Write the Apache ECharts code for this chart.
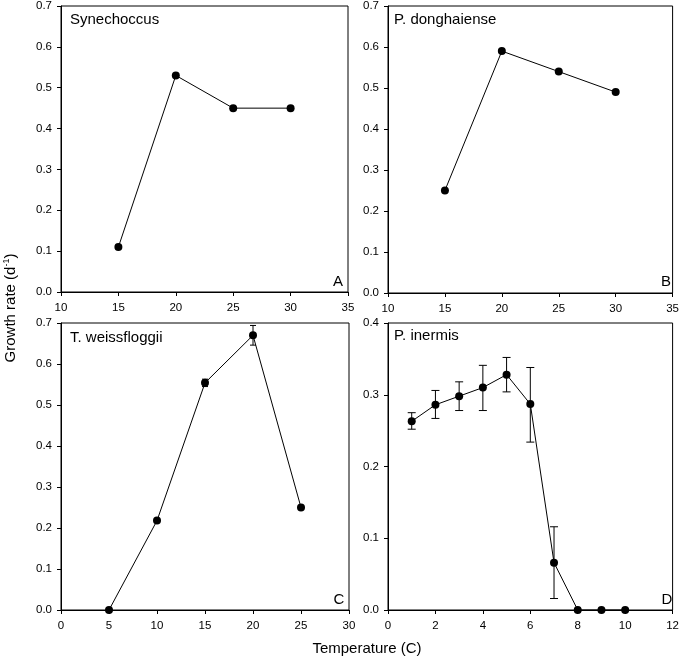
<!DOCTYPE html>
<html><head><meta charset="utf-8">
<script src="https://cdn.jsdelivr.net/npm/echarts@6/dist/echarts.min.js"></script>
<style>html,body{margin:0;padding:0;background:#fff}#c{width:682px;height:658px}</style>
</head><body><div id="c"></div>
<script>
// Panel A: Synechoccus
const tempA = [15, 20, 25, 30];
const rateA = [0.11, 0.53, 0.45, 0.45];
// Panel B: P. donghaiense
const tempB = [15, 20, 25, 30];
const rateB = [0.25, 0.59, 0.54, 0.49];
// Panel C: T. weissfloggii
const tempC = [5, 10, 15, 20, 25];
const rateC = [0.0, 0.218, 0.554, 0.67, 0.25];
const errC  = [0, 0.004, 0.009, 0.024, 0];
// Panel D: P. inermis
const tempD = [1, 2, 3, 4, 5, 6, 7, 8, 9, 10];
const rateD = [0.263, 0.286, 0.298, 0.310, 0.328, 0.287, 0.066, 0, 0, 0];
const errLowD  = [0.252, 0.267, 0.278, 0.278, 0.304, 0.234, 0.016, 0, 0, 0];
const errHighD = [0.275, 0.306, 0.318, 0.341, 0.352, 0.338, 0.116, 0, 0, 0];

const panelNames = ['Synechoccus', 'P. donghaiense', 'T. weissfloggii', 'P. inermis'];
const panelLetters = ['A', 'B', 'C', 'D'];

const font = 'Liberation Sans, Arial, sans-serif';
const chart = echarts.init(document.getElementById('c'));

const grids = [
  {left: 61, right: 334, top: 4, height: 288},
  {left: 388, right: 6, top: 4, height: 289},
  {left: 61, right: 333, top: 323, height: 287},
  {left: 388, right: 6, top: 323, height: 287}
].map(g => Object.assign(g, {show: true, borderColor: '#000', borderWidth: 1, backgroundColor: 'transparent'}));

function xAx(i, min, max, interval) {
  return {type: 'value', gridIndex: i, min, max, interval,
    axisLine: {show: true, onZero: false, lineStyle: {color: '#000', width: 1}},
    axisTick: {show: true, inside: false, length: 4, lineStyle: {color: '#000'}},
    axisLabel: {color: '#000', fontSize: 11.5, fontFamily: font, margin: 10},
    splitLine: {show: false}};
}
function yAx(i, min, max, interval) {
  return {type: 'value', gridIndex: i, min, max, interval,
    axisLine: {show: true, onZero: false, lineStyle: {color: '#000', width: 1}},
    axisTick: {show: true, inside: false, length: 4, lineStyle: {color: '#000'}},
    axisLabel: {color: '#000', fontSize: 11.5, fontFamily: font, margin: 9, formatter: v => v.toFixed(1)},
    splitLine: {show: false}};
}

function lineSeries(i, xs, ys) {
  return {type: 'line', xAxisIndex: i, yAxisIndex: i,
    data: xs.map((x, k) => [x, ys[k]]),
    symbol: 'circle', symbolSize: 8, showSymbol: true,
    lineStyle: {color: '#000', width: 1}, itemStyle: {color: '#000'},
    animation: false, z: 3};
}
function errSeries(i, xs, lo, hi, cap) {
  return {type: 'custom', xAxisIndex: i, yAxisIndex: i,
    data: xs.map((x, k) => [x, lo[k], hi[k]]).filter(d => d[2] > d[1]),
    renderItem: function (params, api) {
      const x = api.value(0);
      const p1 = api.coord([x, api.value(2)]);
      const p2 = api.coord([x, api.value(1)]);
      const st = {stroke: '#000', lineWidth: 1};
      return {type: 'group', children: [
        {type: 'line', shape: {x1: p1[0], y1: p1[1], x2: p2[0], y2: p2[1]}, style: st},
        {type: 'line', shape: {x1: p1[0] - cap, y1: p1[1], x2: p1[0] + cap, y2: p1[1]}, style: st},
        {type: 'line', shape: {x1: p2[0] - cap, y1: p2[1], x2: p2[0] + cap, y2: p2[1]}, style: st}
      ]};
    }, animation: false, z: 2};
}

const labelPos = [[70, 20], [394, 20], [70, 338], [394, 336]];
const letterPos = [[338, 282], [666, 282], [339, 600], [667, 600]];
const graphics = [];
panelNames.forEach((n, i) => {
  graphics.push({type: 'text', x: labelPos[i][0], y: labelPos[i][1],
    style: {text: n, font: '15px ' + font, fill: '#000', align: 'left', verticalAlign: 'middle'}});
  graphics.push({type: 'text', x: letterPos[i][0], y: letterPos[i][1],
    style: {text: panelLetters[i], font: '15px ' + font, fill: '#000', align: 'center', verticalAlign: 'middle'}});
});
graphics.push({type: 'text', x: 367, y: 649,
  style: {text: 'Temperature (C)', font: '15px ' + font, fill: '#000', align: 'center', verticalAlign: 'middle'}});
graphics.push({type: 'text', x: 10, y: 308, rotation: Math.PI / 2,
  style: {text: '{a|Growth rate (d}{s|-1}{a|)}', align: 'center', verticalAlign: 'middle',
    rich: {a: {font: '15px ' + font, fill: '#000', verticalAlign: 'bottom'},
           s: {font: '9px ' + font, fill: '#000', verticalAlign: 'top', padding: [0, 0, 7, 0]}}}});

chart.setOption({
  animation: false,
  grid: grids,
  xAxis: [xAx(0, 10, 35, 5), xAx(1, 10, 35, 5), xAx(2, 0, 30, 5), xAx(3, 0, 12, 2)],
  yAxis: [yAx(0, 0, 0.7, 0.1), yAx(1, 0, 0.7, 0.1), yAx(2, 0, 0.7, 0.1), yAx(3, 0, 0.4, 0.1)],
  series: [
    lineSeries(0, tempA, rateA),
    lineSeries(1, tempB, rateB),
    lineSeries(2, tempC, rateC),
    errSeries(2, tempC, rateC.map((v, k) => v - errC[k]), rateC.map((v, k) => v + errC[k]), 3),
    lineSeries(3, tempD, rateD),
    errSeries(3, tempD, errLowD, errHighD, 4)
  ],
  graphic: graphics
});
</script></body></html>
